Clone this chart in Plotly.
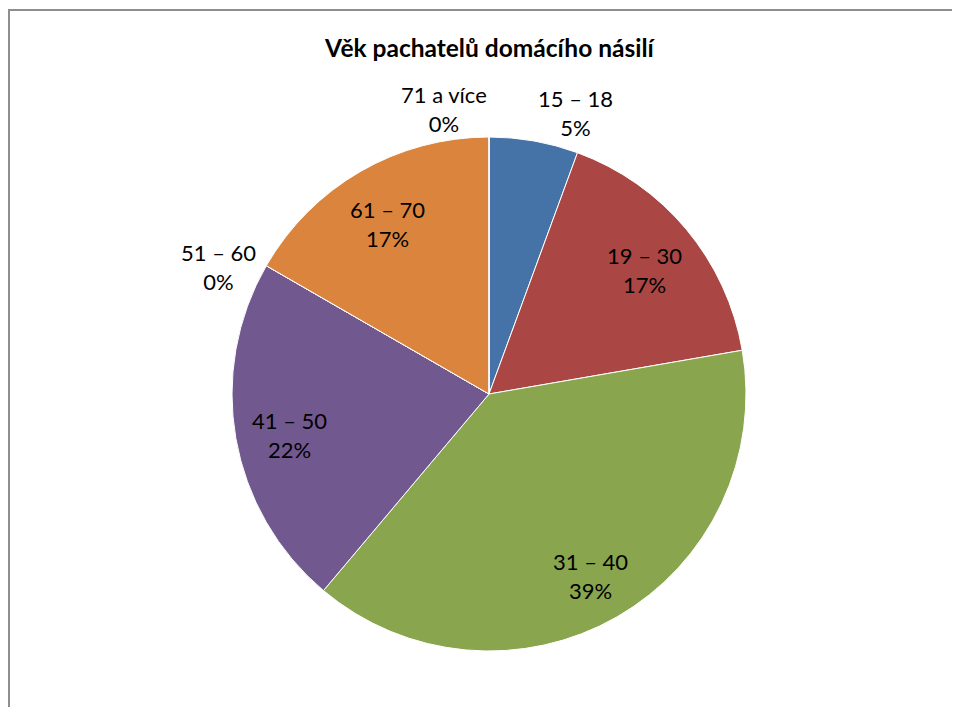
import math
import plotly.graph_objects as go

title = "Věk pachatelů domácího násilí"
categories = ["15 – 18", "19 – 30", "31 – 40", "41 – 50", "51 – 60", "61 – 70", "71 a více"]
values = [5.6, 16.7, 38.9, 22.2, 0, 16.7, 0]
pct_labels = ["5%", "17%", "39%", "22%", "0%", "17%", "0%"]
colors = ["#4572A7", "#AA4643", "#89A54E", "#71588F", "#4198AF", "#DB843D", "#93A9CF"]
outside = [True, False, False, False, True, False, True]

# page body has an 8px margin, so the figure is offset and kept small enough to avoid scrollbars
OFF = 8
W, H = 944, 699
FONT = "Lato, Open Sans, sans-serif"

# pie geometry in figure pixels
CX, CY, R = 489 - OFF, 394 - OFF, 257


def px(x):
    return x / W


def py(y):
    return 1 - y / H


text = [f"{c}<br>{p}" for c, p in zip(categories, pct_labels)]

fig = go.Figure(go.Pie(
    labels=categories,
    values=values,
    text=text,
    textinfo="none",
    sort=False,
    direction="clockwise",
    rotation=0,
    marker=dict(colors=colors, line=dict(color="white", width=1)),
    domain=dict(x=[px(CX - R), px(CX + R)], y=[py(CY + R), py(CY - R)]),
    showlegend=False,
    hoverinfo="label+percent",
))

annotations = [
    dict(text=f"<b>{title}</b>", x=px(490 - OFF), y=py(47 - OFF), xref="paper", yref="paper",
         xanchor="center", yanchor="middle", showarrow=False,
         font=dict(family=FONT, size=24.5, color="#000000")),
]

total = sum(values)
cum = 0.0
for i, v in enumerate(values):
    a0 = cum / total * 2 * math.pi
    cum += v
    a1 = cum / total * 2 * math.pi
    th = (a0 + a1) / 2
    s, c = math.sin(th), math.cos(th)
    if outside[i]:
        x = CX + (R + 10) * s
        y = CY - (R - 2) * c
        xa = "left" if s > 0.05 else "right"
        ya = "bottom" if c > 0.7 else ("top" if c < -0.7 else "middle")
    else:
        r = 0.79 * R
        x = CX + r * s
        y = CY - r * c + 6
        xa, ya = "center", "middle"
    annotations.append(dict(text=text[i], x=px(x), y=py(y), xref="paper", yref="paper",
                            xanchor=xa, yanchor=ya, showarrow=False,
                            font=dict(family=FONT, size=22, color="#000000")))

fig.update_layout(
    width=W, height=H,
    margin=dict(l=0, r=0, t=0, b=0),
    paper_bgcolor="white",
    annotations=annotations,
    shapes=[
        # chart-area frame: only its top and left edges fall inside the visible page
        dict(type="rect", xref="paper", yref="paper",
             x0=px(9 - OFF), x1=px(W + 40), y0=py(H + 40), y1=py(10 - OFF),
             line=dict(color="#8e8e8e", width=2), fillcolor="rgba(0,0,0,0)", layer="below"),
    ],
)

fig.write_html("out.html")
